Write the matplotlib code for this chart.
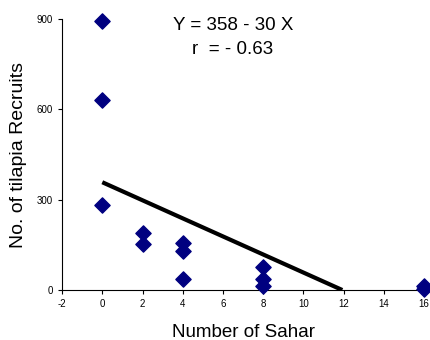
import numpy as np
import matplotlib
matplotlib.use("Agg")
import matplotlib.pyplot as plt

plt.rcParams['font.family'] = ['Liberation Sans', 'DejaVu Sans']
plt.rcParams['axes.unicode_minus'] = False

# data
sahar = [0, 0, 0, 2, 2, 4, 4, 4, 8, 8, 8, 16, 16]
recruits = [893, 630, 283, 188, 152, 157, 130, 35, 77, 36, 13, 12, 3]
intercept = 358
slope = -30
xticks = [-2, 0, 2, 4, 6, 8, 10, 12, 14, 16]
yticks = [0, 300, 600, 900]

fig = plt.figure(figsize=(4.31, 3.40), dpi=100)
ax = fig.add_axes([0.144, 0.147, 0.840, 0.797])

ax.scatter(sahar, recruits, marker='D', s=60, color='#000080', zorder=3, clip_on=False)

# regression line drawn from x=0 to where it reaches zero
x_end = -intercept / slope
xs = np.array([0, x_end])
ax.plot(xs, intercept + slope * xs, color='black', lw=3, solid_capstyle='butt', zorder=2)

ax.set_xlim(-2, 16)
ax.set_ylim(0, 900)
ax.set_xticks(xticks)
ax.set_yticks(yticks)
ax.tick_params(labelsize=7, length=3, width=0.8)
for s in ['top', 'right']:
    ax.spines[s].set_visible(False)

ax.set_xlabel('Number of Sahar', fontsize=13.5, labelpad=11)
ax.set_ylabel('No. of tilapia Recruits', fontsize=14, labelpad=7)

ax.text(0.472, 0.978, 'Y = 358 - 30 X', transform=ax.transAxes, ha='center', va='center', fontsize=13.5)
ax.text(0.472, 0.886, 'r  = - 0.63', transform=ax.transAxes, ha='center', va='center', fontsize=13.5)

fig.savefig('out.png', dpi=100)
